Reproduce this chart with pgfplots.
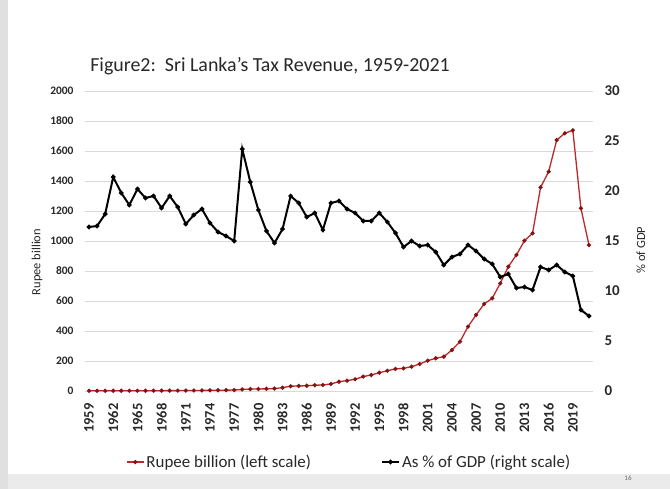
\documentclass[border=0pt]{standalone}
\usepackage{fontspec}
\setmainfont{Carlito}
\usepackage{pgfplots}
\pgfplotsset{compat=1.18}
\usepackage{pgfplotstable}

\definecolor{redline}{RGB}{190,40,40}
\definecolor{redmark}{RGB}{130,20,20}
\definecolor{gridgray}{RGB}{217,217,217}
\definecolor{txt}{RGB}{40,40,40}

\pgfplotstableread{
year rev gdp
1959 1.1 16.4
1960 1.2 16.5
1961 1.3 17.7
1962 1.4 21.4
1963 1.5 19.8
1964 1.6 18.6
1965 1.7 20.2
1966 1.8 19.3
1967 1.9 19.5
1968 2.2 18.3
1969 2.5 19.5
1970 2.7 18.4
1971 2.8 16.7
1972 3.2 17.6
1973 3.8 18.2
1974 4.5 16.8
1975 4.9 15.9
1976 5.6 15.5
1977 6.3 15.0
1978 10.5 24.2
1979 12.6 20.9
1980 13.5 18.1
1981 14.6 16.0
1982 16.2 14.8
1983 22.4 16.2
1984 32.0 19.5
1985 33.5 18.8
1986 35.0 17.4
1987 38.5 17.8
1988 40.0 16.1
1989 47 18.8
1990 62 19.0
1991 69 18.2
1992 78 17.8
1993 96 17.0
1994 107 17.0
1995 122 17.8
1996 135 16.9
1997 147 15.8
1998 151 14.4
1999 162 15.0
2000 180 14.5
2001 202 14.6
2002 218 13.9
2003 229 12.6
2004 273 13.4
2005 329 13.7
2006 429 14.6
2007 507 14.0
2008 580 13.2
2009 618 12.7
2010 718 11.4
2011 829 11.7
2012 907 10.3
2013 1002 10.4
2014 1051 10.1
2015 1358 12.4
2016 1462 12.1
2017 1673 12.6
2018 1718 11.9
2019 1738 11.5
2020 1218 8.1
2021 973 7.5
}\datatable

\begin{document}
\begin{tikzpicture}
\useasboundingbox (0bp,0bp) rectangle (670bp,489bp);
\fill[white] (0bp,0bp) rectangle (670bp,489bp);
\fill[black!12] (0bp,0bp) rectangle (8bp,489bp);
\fill[black!8] (8bp,0bp) rectangle (670bp,15bp);

\pgfplotsset{
  common/.style={
    at={(85bp,98bp)}, anchor=south west,
    scale only axis, width=508bp, height=300bp,
    xmin=1958.5, xmax=2021.5,
    /pgf/number format/1000 sep={},
    /pgf/number format/assume math mode=true,
    major tick length=0pt,
    axis line style={draw=none},
    clip=false,
  }
}

\begin{axis}[common,
  ymin=0, ymax=2000,
  ytick={0,200,...,2000},
  ymajorgrids,
  grid style={gridgray, line width=0.9bp},
  xtick={1959,1962,...,2019},
  xticklabel shift=9bp,
  xticklabel style={font=\bfseries\fontsize{14.5}{15}\selectfont, text=txt, rotate=90, anchor=east},
  yticklabel style={font=\bfseries\fontsize{11.5}{12}\selectfont, text=txt, xshift=-8bp},
]
\addplot[redline, line width=1.3bp, mark=*, mark size=1.4bp,
  mark options={fill=redmark, draw=redmark}] table[x=year, y=rev] {\datatable};
\end{axis}

\begin{axis}[common,
  ymin=0, ymax=30,
  ytick={0,5,...,30},
  axis y line*=right,
  axis x line=none,
  yticklabel style={font=\bfseries\fontsize{15}{16}\selectfont, text=txt, xshift=8bp},
  legend columns=2,
  legend style={at={(0.52,-0.237)}, anchor=center, draw=none, fill=none,
    font=\fontsize{17}{18}\selectfont, text=txt,
    /tikz/every even column/.append style={column sep=68bp}},
  legend cell align=left,
]
\addlegendimage{redline, line width=1.3bp, mark=*, mark size=1.4bp, mark options={fill=redmark, draw=redmark}}
\addlegendentry{Rupee billion (left scale)}
\addplot[black, line width=2bp, mark=*, mark size=1.2bp] table[x=year, y=gdp] {\datatable};
\addlegendentry{As \% of GDP (right scale)}
\end{axis}

\node[text=txt, font=\fontsize{20}{22}\selectfont] at (270bp,423bp) {Figure2:\ \ Sri Lanka's Tax Revenue, 1959-2021};
\node[text=txt, rotate=90, font=\fontsize{12.5}{14}\selectfont] at (37bp,227bp) {Rupee billion};
\node[text=txt, rotate=90, font=\fontsize{12.5}{14}\selectfont] at (641bp,239bp) {\% of GDP};
\node[text=black!60, font=\fontsize{7}{8}\selectfont] at (628bp,11bp) {16};
\end{tikzpicture}
\end{document}
